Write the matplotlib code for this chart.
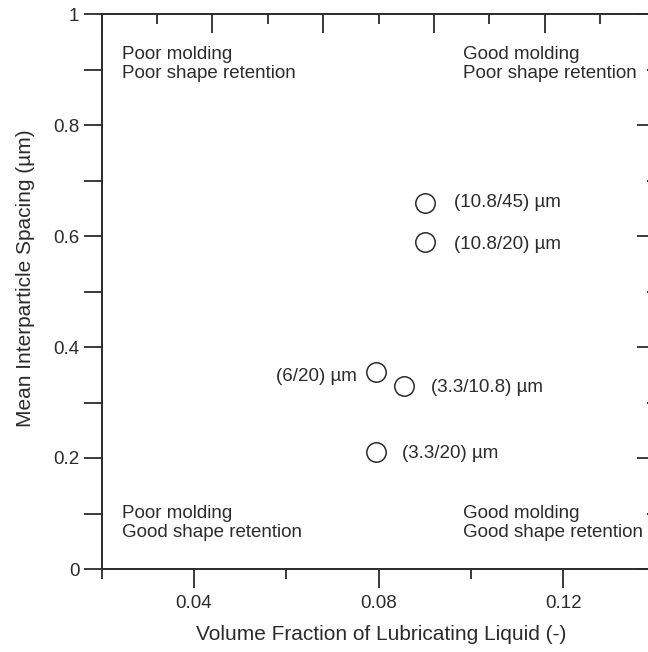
import numpy as np
import matplotlib
matplotlib.use('Agg')
import matplotlib.pyplot as plt
from matplotlib.ticker import MultipleLocator, FixedLocator

# Data
vol_frac = [0.09, 0.09, 0.0795, 0.0855, 0.0795]
spacing = [0.66, 0.59, 0.355, 0.33, 0.21]
point_labels = ['(10.8/45) µm', '(10.8/20) µm', '(6/20) µm', '(3.3/10.8) µm', '(3.3/20) µm']
# label offsets in points and alignment for each point
label_offsets = [(21, 0), (21, -2), (-14, -3.5), (19.5, -1.5), (18.5, -1)]
label_ha = ['left', 'left', 'right', 'left', 'left']

x_major = [0.04, 0.08, 0.12]
x_minor = [0.02, 0.06, 0.10, 0.14]
y_major = [0, 0.2, 0.4, 0.6, 0.8, 1.0]
y_ticklabels = ['0', '0.2', '0.4', '0.6', '0.8', '1']

region_text = [
    (0.0243, 0.884, 'Poor molding\nPoor shape retention'),
    (0.0983, 0.884, 'Good molding\nPoor shape retention'),
    (0.0243, 0.057, 'Poor molding\nGood shape retention'),
    (0.0983, 0.057, 'Good molding\nGood shape retention'),
]

plt.rcParams['font.family'] = ['Liberation Sans', 'DejaVu Sans']
ink = '#2b2b2b'

fig = plt.figure(figsize=(6.48, 6.52), dpi=100)
# the right spine sits just past the image edge, as in the original
ax = fig.add_axes([101.7 / 648, 83 / 652, 553.9 / 648, 555 / 652])
ax.set_xlim(0.02, 0.14)
ax.set_ylim(0, 1)

for s in ax.spines.values():
    s.set_color(ink)
    s.set_linewidth(1.4)

# data points
ax.plot(vol_frac, spacing, linestyle='none', marker='o', ms=14,
        mfc='none', mec=ink, mew=1.1)
for x, y, lab, off, ha in zip(vol_frac, spacing, point_labels, label_offsets, label_ha):
    ax.annotate(lab, (x, y), xytext=off, textcoords='offset points',
                ha=ha, va='center', fontsize=13.5, color=ink)

# region descriptions (baseline = last line)
for x, y, txt in region_text:
    ax.text(x, y, txt, ha='left', va='baseline', fontsize=13.5, color=ink)

# bottom / left ticks
ax.xaxis.set_major_locator(FixedLocator(x_major))
ax.xaxis.set_minor_locator(FixedLocator(x_minor))
ax.set_xticklabels(['0.04', '0.08', '0.12'])
ax.set_yticks(y_major)
ax.set_yticklabels(y_ticklabels)
ax.yaxis.set_minor_locator(MultipleLocator(0.1))
ax.tick_params(axis='x', which='major', direction='out', length=13.5, width=1.3,
               color=ink, labelsize=13.5, labelcolor=ink, pad=5)
ax.tick_params(axis='x', which='minor', direction='out', length=7, width=1.3, color=ink)
ax.tick_params(axis='y', which='both', direction='out', length=13, width=1.3,
               color=ink, labelsize=13.5, labelcolor=ink, pad=3)

# top axis: ticks only
top = ax.secondary_xaxis('top', functions=(lambda v: (v - 0.02) / 0.12,
                                            lambda t: 0.02 + 0.12 * t))
top.xaxis.set_major_locator(MultipleLocator(0.2))
top.xaxis.set_minor_locator(MultipleLocator(0.1))
top.tick_params(which='major', direction='in', length=13.5, width=1.3, color=ink,
                labeltop=False)
top.tick_params(which='minor', direction='in', length=7, width=1.3, color=ink)
top.spines['top'].set_visible(False)

# right axis: ticks only
right = ax.secondary_yaxis('right')
right.yaxis.set_major_locator(MultipleLocator(0.2))
right.yaxis.set_minor_locator(MultipleLocator(0.1))
right.tick_params(which='major', direction='in', length=13.5, width=1.3, color=ink,
                  labelright=False)
right.tick_params(which='minor', direction='in', length=6.5, width=1.3, color=ink)
right.spines['right'].set_visible(False)

ax.set_xlabel('Volume Fraction of Lubricating Liquid (-)', fontsize=15, color=ink)
ax.set_ylabel('Mean Interparticle Spacing (µm)', fontsize=15, color=ink)
ax.xaxis.set_label_coords(0.505, -0.1)
ax.yaxis.set_label_coords(-0.12, 0.524)

fig.savefig('out.png', dpi=100)
